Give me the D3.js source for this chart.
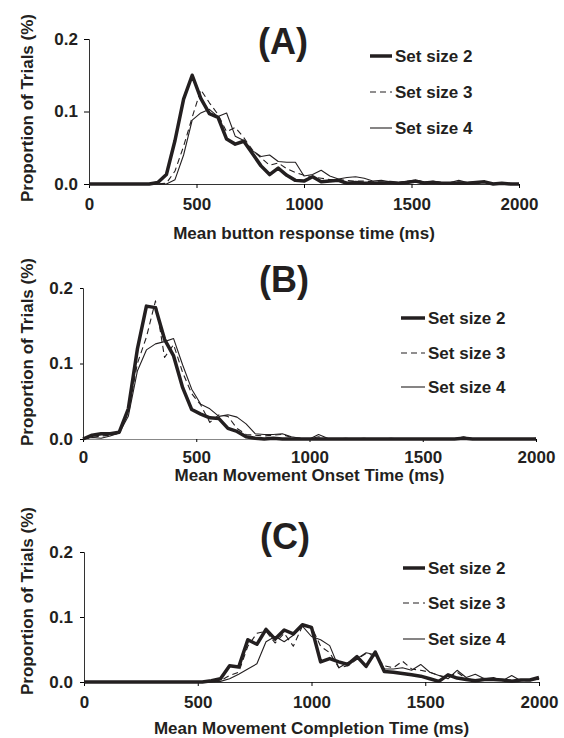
<!DOCTYPE html>
<meta charset="utf-8">
<style>
body { margin: 0; background: #fff; }
text { font-family: "Liberation Sans", Arial, sans-serif; font-weight: bold; fill: #231f20; }
.series { fill: none; stroke: #231f20; stroke-linejoin: round; }
</style>
<body>
<script src="https://cdn.jsdelivr.net/npm/d3@7"></script>
<script>

// bin centres (ms)
var times = [0, 40, 80, 120, 160, 200, 240, 280, 320, 360, 400, 440, 480, 520, 560, 600, 640, 680, 720, 760,
  800, 840, 880, 920, 960, 1000, 1040, 1080, 1120, 1160, 1200, 1240, 1280, 1320, 1360, 1400, 1440, 1480, 1520, 1560,
  1600, 1640, 1680, 1720, 1760, 1800, 1840, 1880, 1920, 1960, 2000];

var seriesNames = ["Set size 2", "Set size 3", "Set size 4"];
var yTicks = [0, 0.1, 0.2];
var xTicks = [0, 500, 1000, 1500, 2000];

// (A) button response time
var buttonSet2 = [0, 0, 0, 0, 0, 0, 0, 0, 0.002, 0.013, 0.060, 0.117, 0.150, 0.118, 0.097, 0.092, 0.062, 0.055, 0.059, 0.042,
  0.025, 0.013, 0.022, 0.012, 0.005, 0.004, 0.010, 0.003, 0.004, 0.005, 0.001, 0.002, 0.001, 0.001, 0.001, 0.002, 0.001, 0.002, 0.004, 0.001,
  0.002, 0.001, 0.001, 0.001, 0.001, 0.002, 0.003, 0, 0.001, 0, 0];
var buttonSet3 = [0, 0, 0, 0, 0, 0, 0, 0, 0, 0.001, 0.018, 0.052, 0.092, 0.130, 0.112, 0.096, 0.072, 0.078, 0.064, 0.047,
  0.036, 0.026, 0.029, 0.021, 0.016, 0.012, 0.010, 0.008, 0.006, 0.006, 0.005, 0.004, 0.004, 0.003, 0.003, 0.002, 0.002, 0.003, 0.006, 0.002,
  0.003, 0.002, 0.002, 0.003, 0.002, 0.002, 0.002, 0.001, 0.001, 0.001, 0];
var buttonSet4 = [0, 0, 0, 0, 0, 0, 0, 0, 0, 0, 0.006, 0.040, 0.088, 0.098, 0.103, 0.093, 0.098, 0.066, 0.060, 0.046,
  0.038, 0.040, 0.031, 0.030, 0.030, 0.011, 0.013, 0.019, 0.011, 0.007, 0.009, 0.010, 0.008, 0.004, 0.005, 0.003, 0.002, 0.004, 0.005, 0.003,
  0.004, 0.002, 0.002, 0.005, 0.002, 0.003, 0.002, 0.001, 0.001, 0, 0];

// (B) movement onset time
var onsetSet2 = [0, 0.005, 0.007, 0.007, 0.009, 0.040, 0.119, 0.176, 0.174, 0.132, 0.110, 0.068, 0.039, 0.033, 0.028, 0.027, 0.014, 0.010, 0.003, 0.001,
  0, 0.001, 0, 0, 0, 0, 0, 0, 0, 0, 0, 0, 0, 0, 0, 0, 0, 0, 0, 0,
  0, 0, 0.001, 0, 0, 0, 0, 0, 0, 0, 0];
var onsetSet3 = [0, 0.002, 0.004, 0.005, 0.008, 0.035, 0.100, 0.135, 0.183, 0.108, 0.125, 0.088, 0.060, 0.045, 0.022, 0.032, 0.030, 0.014, 0.006, 0.005,
  0.004, 0.005, 0.006, 0.002, 0.001, 0, 0.003, 0, 0, 0, 0, 0, 0, 0, 0, 0, 0, 0, 0, 0,
  0, 0, 0.001, 0, 0, 0, 0, 0, 0, 0, 0];
var onsetSet4 = [0, 0.002, 0.001, 0.004, 0.008, 0.030, 0.090, 0.118, 0.126, 0.129, 0.133, 0.098, 0.066, 0.046, 0.040, 0.030, 0.032, 0.029, 0.020, 0.007,
  0.006, 0.006, 0.007, 0.003, 0.001, 0, 0.006, 0.001, 0, 0.001, 0, 0.001, 0, 0, 0.001, 0, 0, 0, 0, 0,
  0, 0, 0.003, 0, 0, 0, 0, 0, 0, 0, 0.001];

// (C) movement completion time
var completionSet2 = [0, 0, 0, 0, 0, 0, 0, 0, 0, 0, 0, 0, 0, 0, 0.002, 0.005, 0.025, 0.023, 0.065, 0.058,
  0.081, 0.066, 0.080, 0.074, 0.088, 0.084, 0.031, 0.036, 0.031, 0.027, 0.039, 0.024, 0.046, 0.016, 0.015, 0.013, 0.011, 0.009, 0.005, 0.001,
  0.011, 0.006, 0.004, 0.002, 0.004, 0.004, 0.003, 0.001, 0.003, 0.003, 0.007];
var completionSet3 = [0, 0, 0, 0, 0, 0, 0, 0, 0, 0, 0, 0, 0, 0, 0, 0.002, 0.010, 0.015, 0.055, 0.075,
  0.078, 0.060, 0.075, 0.055, 0.086, 0.085, 0.055, 0.045, 0.022, 0.025, 0.035, 0.044, 0.040, 0.025, 0.022, 0.032, 0.020, 0.018, 0.015, 0.010,
  0.007, 0.015, 0.005, 0.003, 0.005, 0.005, 0.003, 0.003, 0.002, 0.002, 0.005];
var completionSet4 = [0, 0, 0, 0, 0, 0, 0, 0, 0, 0, 0, 0, 0, 0, 0, 0.001, 0.005, 0.012, 0.020, 0.028,
  0.062, 0.070, 0.062, 0.072, 0.086, 0.070, 0.065, 0.056, 0.022, 0.030, 0.036, 0.045, 0.042, 0.020, 0.020, 0.022, 0.018, 0.027, 0.015, 0.010,
  0.005, 0.018, 0.007, 0.012, 0.005, 0.007, 0.002, 0.010, 0.002, 0.003, 0.004];

var styles = [
  {width: 3.5, dash: null},
  {width: 1.1, dash: "6,4"},
  {width: 1.1, dash: null}
];

var svg = d3.select("body").append("svg")
    .attr("width", 564)
    .attr("height", 738);

function drawPanel(p) {
  var x = d3.scaleLinear().domain([0, 2000]).range([p.left, p.right]);
  var y = d3.scaleLinear().domain([0, 0.2]).range([p.bottom, p.top]);

  var g = svg.append("g");

  var yAxis = g.append("g")
      .attr("transform", "translate(" + p.left + ",0)")
      .call(d3.axisLeft(y).tickValues(yTicks).tickFormat(d3.format(".1f"))
        .tickSize(p.yTick).tickPadding(p.yPad));
  yAxis.selectAll("text").style("font-size", "17px");

  var xAxis = g.append("g")
      .attr("transform", "translate(0," + p.bottom + ")")
      .call(d3.axisBottom(x).tickValues(xTicks).tickFormat(d3.format("d"))
        .tickSizeOuter(0).tickSize(p.xTick).tickPadding(p.xPad));
  xAxis.selectAll("text").style("font-size", "17px");
  xAxis.select(".domain").attr("stroke", p.baseColor);

  g.selectAll(".domain, .tick line").attr("stroke-width", 1);
  yAxis.select(".domain").attr("stroke", "#333");

  var line = d3.line()
      .x(function(d, i) { return x(times[i]); })
      .y(function(d) { return y(d); });

  // draw thin ones first so the thick set size 2 sits on top
  [2, 1, 0].forEach(function(k) {
    g.append("path")
        .attr("class", "series")
        .attr("d", line(p.series[k]))
        .attr("stroke-width", styles[k].width)
        .attr("stroke-dasharray", styles[k].dash);
  });

  g.append("text")
      .attr("x", p.titleX)
      .attr("y", p.titleY)
      .attr("text-anchor", "middle")
      .style("font-size", "36px")
      .text(p.title);

  g.append("text")
      .attr("x", (p.left + p.right) / 2)
      .attr("y", p.xLabelY)
      .attr("dy", "0.35em")
      .attr("text-anchor", "middle")
      .style("font-size", "17px")
      .text(p.xLabel);

  g.append("text")
      .attr("transform", "translate(" + p.yLabelX + "," + p.yLabelY + ") rotate(-90)")
      .attr("dy", "0.35em")
      .attr("text-anchor", "middle")
      .style("font-size", "17px")
      .text("Proportion of Trials (%)");

  seriesNames.forEach(function(name, k) {
    g.append("line")
        .attr("x1", p.legX1).attr("x2", p.legX2)
        .attr("y1", p.legY[k]).attr("y2", p.legY[k])
        .attr("stroke", "#231f20")
        .attr("stroke-width", styles[k].width)
        .attr("stroke-dasharray", styles[k].dash);
    g.append("text")
        .attr("x", p.legX2 + 3)
        .attr("y", p.legY[k])
        .attr("dy", "0.35em")
        .style("font-size", "17px")
        .text(name);
  });
}

drawPanel({
  title: "(A)", xLabel: "Mean button response time (ms)",
  series: [buttonSet2, buttonSet3, buttonSet4],
  left: 89, right: 519, top: 39, bottom: 184,
  yTick: 5, yPad: 6, xTick: 4, xPad: 10, baseColor: "#333",
  titleX: 283, titleY: 54, xLabelY: 233, yLabelX: 27, yLabelY: 108,
  legX1: 370, legX2: 392, legY: [56, 92, 128]
});

drawPanel({
  title: "(B)", xLabel: "Mean Movement Onset Time (ms)",
  series: [onsetSet2, onsetSet3, onsetSet4],
  left: 83, right: 536, top: 288, bottom: 439,
  yTick: 3, yPad: 7, xTick: 3, xPad: 9, baseColor: "#888",
  titleX: 284, titleY: 292, xLabelY: 475, yLabelX: 27, yLabelY: 352,
  legX1: 401, legX2: 425, legY: [318, 353, 387]
});

drawPanel({
  title: "(C)", xLabel: "Mean Movement Completion Time (ms)",
  series: [completionSet2, completionSet3, completionSet4],
  left: 84, right: 539, top: 552, bottom: 682,
  yTick: 4, yPad: 7, xTick: 4, xPad: 10, baseColor: "#333",
  titleX: 285, titleY: 549, xLabelY: 728, yLabelX: 27, yLabelY: 601,
  legX1: 403, legX2: 425, legY: [568, 603, 639]
});

</script>
</body>
